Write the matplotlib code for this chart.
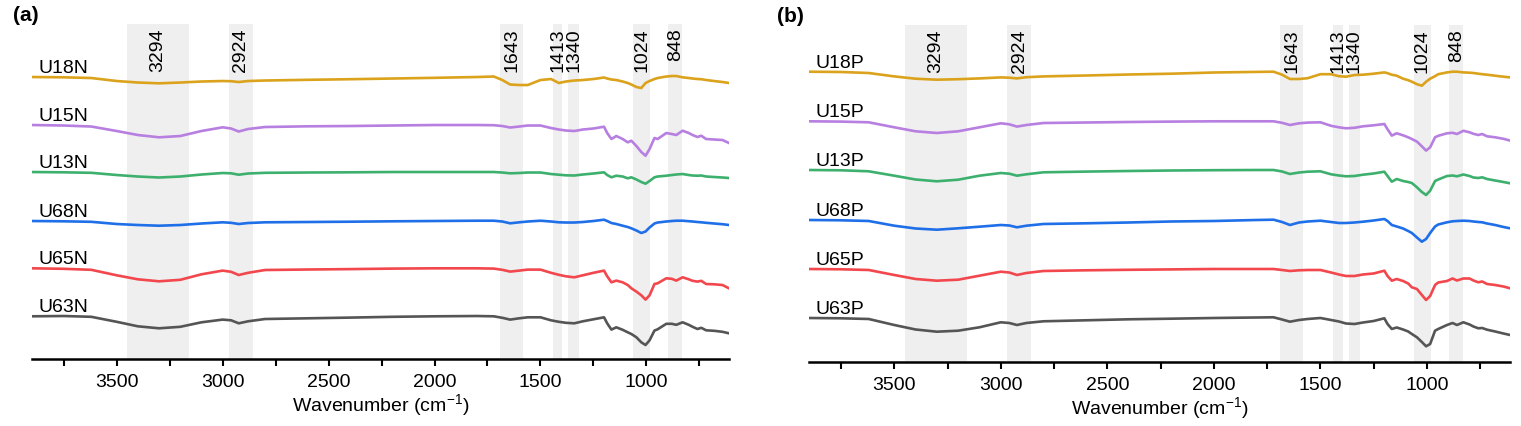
import matplotlib
matplotlib.use('Agg')
import matplotlib.pyplot as plt
from matplotlib.ticker import MultipleLocator
import numpy as np

plt.rcParams['font.family'] = ['Liberation Sans', 'DejaVu Sans']
plt.rcParams['mathtext.default'] = 'regular'

# wavenumber grid (cm-1) shared by all spectra
wn = [3900, 3750, 3620, 3500, 3400, 3300, 3200, 3100, 3000, 2960,
      2924, 2880, 2800, 2600, 2400, 2200, 2000, 1800, 1720, 1680,
      1643, 1600, 1560, 1500, 1450, 1413, 1380, 1340, 1300, 1250,
      1200, 1185, 1165, 1142, 1112, 1088, 1071, 1047, 1024, 1004,
      985, 962, 947, 906, 880, 859, 829, 800, 782, 759,
      741, 718, 680, 641, 610]

# absorption depth below each trace's baseline (arb. units)
u18n = [0, 0.3, 1, 4, 5.5, 6.3, 5.5, 4.5, 4, 4.2, 5, 4, 3.5, 2.8, 2.2, 1.5, 0.8, 0, -0.5, 3,
        7.5, 8, 8, 3, 2, 6, 4.5, 3.5, 3, 2, 0.5, 1.5, 2.5, 3, 4.5, 6, 7.5, 10, 11, 6,
        4, 2, 1, -0.5, -1, -1, 0.3, 1, 1.5, 2, 2.2, 3, 4, 5, 6]
u15n = [0, 0.5, 1.5, 6, 10, 12.3, 11, 6, 2.3, 3.5, 6.5, 4, 2, 1.3, 1, 0.5, 0, 0, 0.2, 1,
        2.5, 1.5, 0.5, 0.5, 3, 4.5, 5.5, 6, 4.5, 3.5, 1.7, 8, 14, 11, 14, 17.3, 15.7, 21, 27, 30.7,
        24, 13, 14, 8, 9, 10, 5.7, 8, 10, 12, 10.7, 14, 14.5, 15, 18]
u13n = [0, 0.3, 0.8, 3, 4.5, 5.5, 4.5, 2.5, 1, 1.3, 2.7, 1.5, 0.8, 0.5, 0.3, 0, 0, 0, 0, 0.5,
        1.3, 1, 0.5, 0.5, 2, 2.7, 3.3, 3.5, 2.5, 1.5, 0.3, 3, 5.3, 3.7, 4.5, 6.3, 5.3, 7.5, 10, 11.7,
        9, 5.3, 4.5, 3.7, 3, 2.5, 2, 3, 3.5, 3.7, 3.5, 4.5, 5, 5.5, 6]
u68n = [0, 0.3, 0.8, 3, 4, 4.7, 4, 2.5, 1.3, 1.8, 3, 2, 1.3, 1, 0.7, 0.3, 0, -0.3, -0.3, 0.5,
        2.3, 1.3, 0.5, -0.3, 0.5, 1.3, 1.5, 1.5, 1, 0, -1.3, 0, 2, 3, 4.7, 6, 7.3, 9.5, 12, 10.5,
        6.5, 2.5, 1.5, 0.5, 0, -0.3, -0.3, 0.2, 0.5, 1, 1.3, 1.8, 2.5, 3.2, 4]
u65n = [0, 0.5, 1.5, 7, 11, 13, 11.5, 6, 2.3, 3.5, 6.7, 4.5, 1.7, 1.2, 0.8, 0.3, 0, 0, 0.3, 1.5,
        3.3, 2.3, 1.3, 1.3, 4.5, 6.5, 8, 9, 7, 4.5, 2.3, 8, 14, 12.3, 14, 16.7, 20, 23.3, 27, 31.3,
        27, 15.7, 15, 10, 10.5, 12.3, 9, 11, 12.5, 13.3, 12.5, 15.7, 16, 16.7, 20]
u63n = [0, -0.3, 0.5, 5.5, 10, 12, 10.5, 6, 3.3, 4, 7, 5, 2.7, 2, 1.3, 0.5, 0, -0.3, 0, 1.5,
        3.3, 2, 1, 1, 4, 5.5, 6.5, 7, 5, 3, 1, 7, 13.3, 11, 13.5, 16, 17.7, 21, 26, 28.7,
        24, 14.3, 13, 7.5, 7.5, 8.5, 6, 8.5, 10.5, 12.7, 11.5, 14, 14.5, 15.5, 17]

u18p = [0, 0.3, 1.3, 4.7, 7, 8, 7.5, 6.7, 5.7, 6, 6.7, 5.5, 4.7, 3.8, 2.8, 2, 0.8, 0.2, 0, 3,
        7.3, 7.3, 6.5, 2.5, 2.5, 4.5, 5, 3.3, 3, 2, 0.7, 1.5, 3, 4, 7, 8.5, 10, 12.5, 14, 10,
        7, 4.5, 2.5, 0.7, 0, 0, 0.7, 1, 1.3, 2, 2.5, 3, 4, 5, 5.7]
u15p = [0, 0.3, 1, 6, 10, 11.7, 10, 6, 2, 3, 5.3, 3.7, 1.7, 1.2, 0.7, 0.3, 0, 0, 0, 1.5,
        3.7, 2, 1.3, 1, 4.5, 6, 7, 6.5, 5, 4, 2.7, 8, 14.3, 12, 14, 16, 17.7, 20.3, 25, 29.3,
        26, 16, 14.5, 12, 11.5, 12.7, 9.5, 11, 12.5, 13.7, 12.7, 15, 16, 17.5, 19.3]
u13p = [0, 0.3, 1.3, 5.7, 9.5, 11.3, 9.7, 5.7, 3, 3.7, 5.7, 4.3, 2.3, 1.6, 1, 0.5, 0.2, 0, 0, 1.5,
        4, 2.5, 1.7, 1.3, 4.3, 5.5, 6.3, 6, 4.7, 3.5, 1.7, 6, 11.7, 9, 11, 12, 13, 17.3, 22, 25,
        20.7, 11, 9.5, 6, 5.5, 6.3, 4.5, 6, 7.5, 8, 7.3, 9, 10.5, 12, 13.3]
u68p = [0, 0.3, 1, 5.7, 8.5, 9.7, 8.3, 6.7, 5, 5.5, 7.3, 5.7, 4, 3.3, 2.5, 1.5, 1, 0, -0.3, 2,
        5, 2.5, 1.5, 0.7, 2, 3, 3, 2.5, 1.7, 0.5, -1, 1, 5, 6.5, 8.5, 11, 13, 17.5, 21.7, 19,
        13, 6.5, 4.5, 2.3, 1.3, 1, 0.7, 1, 1.5, 2, 2.3, 3.5, 5, 7, 8.3]
u65p = [0, 0.3, 1, 6, 10, 11.7, 10.7, 6.7, 2.7, 3.5, 6, 4, 2, 1.3, 0.8, 0.4, 0, 0, 0, 1,
        2, 1.3, 1, 1, 3.5, 5.5, 7, 7, 5.5, 4.5, 1.7, 7, 11.7, 10, 12, 14.5, 18.3, 20, 26, 31,
        27, 16, 13.5, 12, 9.5, 11.5, 9.5, 9.5, 11.5, 13.3, 12.5, 15, 16, 17.5, 19.3]
u63p = [0, 0.3, 1, 7, 11.5, 13.7, 12.7, 9.3, 4.3, 5, 7, 5, 3.3, 2.3, 1.3, 0.7, 0, -0.5, -0.7, 1.5,
        3.7, 2, 1, 0, 2, 3.5, 5.5, 6, 4.5, 3, 0.3, 6, 11, 9.5, 11.5, 13.5, 16, 19.3, 24, 28.3,
        26, 12.7, 11, 7, 5, 7, 4.3, 6.5, 8.5, 10.3, 10, 11.7, 13.5, 15.5, 17]

names_a = ['U18N', 'U15N', 'U13N', 'U68N', 'U65N', 'U63N']
names_b = ['U18P', 'U15P', 'U13P', 'U68P', 'U65P', 'U63P']
spec_a = [u18n, u15n, u13n, u68n, u65n, u63n]
spec_b = [u18p, u15p, u13p, u68p, u65p, u63p]
offsets_a = [282, 234, 187, 138, 90.7, 42.7]
offsets_b = [290.3, 240.7, 192, 142, 93, 44]
colors = ['#DBA21C', '#B77FE0', '#3DB06E', '#1F6FE8', '#F2474D', '#555555']

# marked bands: label, high edge, low edge
band_labels = ['3294', '2924', '1643', '1413', '1340', '1024', '848']
band_hi = [3450, 2970, 1690, 1443, 1368, 1061, 896]
band_lo = [3160, 2858, 1580, 1396, 1316, 981, 830]

fig = plt.figure(figsize=(15.21, 4.27), dpi=100)
ax_a = fig.add_axes([0.0210, 0.1569, 0.4583, 0.7845])
ax_b = fig.add_axes([0.5319, 0.1499, 0.4609, 0.7892])


def draw_panel(ax, names, specs, offsets, ytop, tag, tag_x):
    for lab, hi, lo in zip(band_labels, band_hi, band_lo):
        ax.axvspan(lo, hi, color='#EFEFEF', lw=0, zorder=0)
        ax.text((hi + lo) / 2, ytop - 3, lab, rotation=90, ha='center', va='top',
                fontsize=14, zorder=3)
    for name, sp, off, c in zip(names, specs, offsets, colors):
        y = off - np.array(sp)
        ax.plot(wn, y, color=c, lw=1.9, zorder=2)
        ax.text(3868, off + 5, name, fontsize=14, ha='left', va='baseline', zorder=3)
    ax.set_xlim(3900, 610)
    ax.set_ylim(0, ytop)
    ax.xaxis.set_major_locator(MultipleLocator(500))
    ax.xaxis.set_minor_locator(MultipleLocator(250))
    ax.set_xticks([3500, 3000, 2500, 2000, 1500, 1000])
    ax.tick_params(axis='x', which='both', direction='out', length=5, width=1.5,
                   labelsize=14, pad=5)
    ax.set_yticks([])
    for s in ['left', 'right', 'top']:
        ax.spines[s].set_visible(False)
    ax.spines['bottom'].set_linewidth(1.8)
    ax.set_xlabel('Wavenumber (cm$^{-1}$)', fontsize=14, labelpad=1)
    ax.text(tag_x, 1.0, tag, transform=ax.transAxes, fontsize=15, fontweight='bold',
            ha='left', va='bottom')


draw_panel(ax_a, names_a, spec_a, offsets_a, 335, '(a)', -0.027)
draw_panel(ax_b, names_b, spec_b, offsets_b, 337, '(b)', -0.046)

fig.savefig('out.png', dpi=100)
